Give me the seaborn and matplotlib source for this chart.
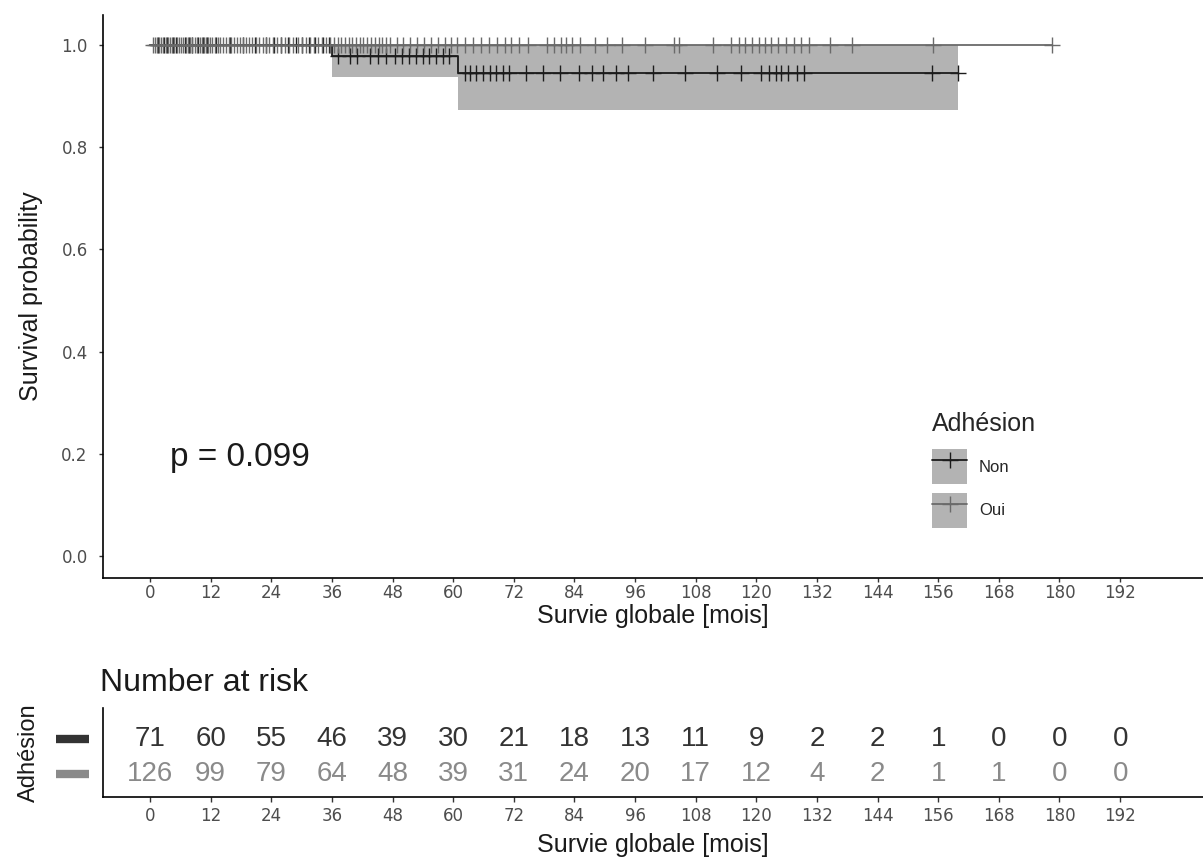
import numpy as np
import pandas as pd
import matplotlib
matplotlib.use("Agg")
import matplotlib.pyplot as plt
import matplotlib.transforms as mtransforms
from matplotlib.patches import Patch
from matplotlib.lines import Line2D
import seaborn as sns

# ---------------- data ----------------
groups = ["Non", "Oui"]
legend_title = "Adhésion"

non_event_times = [36.0, 61.0]
non_censor_times = [1.5, 2.8, 3.4, 4.6, 5.2, 6.9, 7.7, 8.3, 9.6, 10.4, 11.2,
                    13.1, 15.8, 18.4, 20.7, 22.9,
                    24.6, 25.9, 27.3, 28.8, 30.1, 31.5, 32.7, 34.2, 35.4,
                    37.2, 39.5, 41.0, 43.6, 45.1, 46.8,
                    48.5, 49.8, 51.2, 52.6, 54.0, 55.3, 56.7, 57.9, 59.2,
                    62.3, 63.4, 64.6, 66.0, 67.2, 68.5, 69.9, 71.1,
                    74.5, 77.8, 81.2,
                    85.0, 87.4, 89.6, 92.3, 94.7,
                    99.5, 105.8,
                    112.3, 117.0,
                    121.0, 122.5, 123.8, 124.9, 126.2, 128.0, 129.5,
                    154.8, 160.0]

oui_event_times = []
oui_censor_times = [0.5, 0.9, 1.3, 1.8, 2.2, 2.6, 3.1, 3.5, 3.9, 4.4, 4.8, 5.3, 5.7, 6.2,
                    6.6, 7.1, 7.5, 8.0, 8.4, 8.9, 9.3, 9.8, 10.2, 10.6, 11.0, 11.4, 11.8,
                    12.3, 12.8, 13.4, 13.9, 14.5, 15.0, 15.6, 16.1, 16.7, 17.2, 17.8, 18.4,
                    19.0, 19.6, 20.2, 20.9, 21.6, 22.3, 23.0, 23.6,
                    24.4, 25.2, 26.0, 26.8, 27.6, 28.4, 29.2, 30.0, 30.8, 31.6, 32.4, 33.2,
                    34.0, 34.8, 35.6,
                    36.5, 37.2, 37.9, 38.6, 39.3, 40.0, 40.8, 41.5, 42.2, 43.0, 43.7, 44.5,
                    45.3, 46.0, 46.8, 47.5,
                    48.8, 50.1, 51.5, 52.9, 54.3, 55.6, 57.0, 58.3, 59.5,
                    60.8, 62.4, 64.0, 65.5, 67.1, 68.6, 70.2, 71.5,
                    73.0, 74.8, 78.5, 80.0, 81.3, 82.4, 83.5,
                    85.2, 88.0, 90.5, 93.5,
                    98.0, 103.8, 104.6,
                    111.5, 115.0, 116.5, 117.8, 119.2,
                    120.6, 121.8, 123.0, 124.2, 125.9, 127.4, 128.8, 130.5,
                    134.5, 139.0,
                    155.0,
                    178.5]

risk_times = [0, 12, 24, 36, 48, 60, 72, 84, 96, 108, 120, 132, 144, 156, 168, 180, 192]
risk_non = [71, 60, 55, 46, 39, 30, 21, 18, 13, 11, 9, 2, 2, 1, 0, 0, 0]
risk_oui = [126, 99, 79, 64, 48, 39, 31, 24, 20, 17, 12, 4, 2, 1, 1, 0, 0]

p_text = "p = 0.099"
x_label = "Survie globale [mois]"
y_label = "Survival probability"
risk_title = "Number at risk"

colors = {"Non": "#1c1c1c", "Oui": "#6a6a6a"}
risk_colors = {"Non": "#333333", "Oui": "#8a8a8a"}
ci_fill = "#b3b3b3"
TXT = ["Liberation Sans", "DejaVu Sans"]


def km(events, censors):
    times = np.array(sorted(events + censors))
    S, gsum = 1.0, 0.0
    rows = [(0.0, 1.0, 1.0, 1.0)]
    for t in sorted(set(events)):
        at_risk = np.sum(times >= t)
        d = sum(1 for e in events if e == t)
        S *= (1 - d / at_risk)
        gsum += d / (at_risk * (at_risk - d))
        se = np.sqrt(gsum)
        rows.append((t, S, S * np.exp(-1.96 * se), min(1.0, S * np.exp(1.96 * se))))
    tmax = times.max()
    rows.append((tmax, rows[-1][1], rows[-1][2], rows[-1][3]))
    return pd.DataFrame(rows, columns=["time", "surv", "lower", "upper"])


def surv_at(df, t):
    idx = np.searchsorted(df["time"].values, t, side="right") - 1
    return df["surv"].values[max(idx, 0)]


curves = {"Non": km(non_event_times, non_censor_times),
          "Oui": km(oui_event_times, oui_censor_times)}
censors = {"Non": non_censor_times, "Oui": oui_censor_times}

curve_df = pd.concat([c.assign(group=g) for g, c in curves.items()], ignore_index=True)
cens_df = pd.concat([pd.DataFrame({"time": censors[g],
                                   "surv": [surv_at(curves[g], t) for t in censors[g]],
                                   "group": g}) for g in groups], ignore_index=True)

# ---------------- plot ----------------
sns.set_theme(style="ticks")
plt.rcParams["font.family"] = ["DejaVu Sans"]

fig = plt.figure(figsize=(12.03, 8.66), dpi=100)
ax = fig.add_axes([103 / 1203, 1 - 578 / 866, 1 - 103 / 1203, (578 - 15) / 866])

for g in ["Oui", "Non"]:
    c = curves[g]
    ax.fill_between(c["time"], c["lower"], c["upper"], step="post",
                    color=ci_fill, linewidth=0, zorder=1)

sns.lineplot(data=curve_df, x="time", y="surv", hue="group", hue_order=groups,
             palette=colors, drawstyle="steps-post", estimator=None, sort=False,
             linewidth=1.3, legend=False, ax=ax, zorder=3)
for g in groups:
    sub = cens_df[cens_df["group"] == g]
    ax.plot(sub["time"], sub["surv"], linestyle="none", marker="+", markersize=11,
            markeredgewidth=1.0, color=colors[g], zorder=4)

ax.set_xlim(-9.3, 208.4)
ax.set_ylim(-0.043, 1.059)
ax.set_xticks(risk_times)
ax.set_yticks([0.0, 0.2, 0.4, 0.6, 0.8, 1.0])
ax.set_yticklabels([f"{v:.1f}" for v in [0.0, 0.2, 0.4, 0.6, 0.8, 1.0]])
ax.tick_params(axis="both", labelsize=12, length=3, width=1, color="#333333",
               labelcolor="#4d4d4d", direction="out")
ax.tick_params(axis="x", pad=1)
ax.tick_params(axis="y", pad=8)
for s in ["top", "right"]:
    ax.spines[s].set_visible(False)
for s in ["left", "bottom"]:
    ax.spines[s].set_linewidth(1.2)
    ax.spines[s].set_color("black")
ax.set_xlabel(x_label, fontsize=18, color="#1a1a1a", labelpad=2, family=TXT)
ax.set_ylabel(y_label, fontsize=18, color="#1a1a1a", labelpad=13, family=TXT)

ax.text(4, 0.193, p_text, fontsize=24, ha="left", va="center", color="#1a1a1a", family=TXT)

handles = [(Patch(facecolor=ci_fill, edgecolor="none"),
            Line2D([], [], color=colors[g], marker="+", markersize=12, linewidth=1.3))
           for g in groups]
leg = ax.legend(handles, groups, title=legend_title, loc="upper left",
                bbox_to_anchor=(919 / 1203, 1 - 399 / 866), bbox_transform=fig.transFigure,
                frameon=False, handlelength=2.1, handleheight=2.9, labelspacing=0.5,
                handletextpad=0.7, borderpad=0.3,
                prop={"family": TXT, "size": 12})
leg.get_title().set_fontfamily(TXT)
leg.get_title().set_fontsize(18)
leg._legend_box.align = "left"
leg._legend_box.sep = 9

# ---------------- risk table ----------------
rax = fig.add_axes([103 / 1203, 1 - 797 / 866, 1 - 103 / 1203, (797 - 708) / 866])
risk_df = pd.DataFrame({"time": risk_times * 2,
                        "n": risk_non + risk_oui,
                        "group": ["Non"] * len(risk_times) + ["Oui"] * len(risk_times)})
ypos = {"Non": 2, "Oui": 1}
for _, r in risk_df.iterrows():
    rax.text(r["time"], ypos[r["group"]], str(r["n"]), ha="center", va="center",
             fontsize=20, color=risk_colors[r["group"]], family=TXT)
rax.set_xlim(-9.3, 208.4)
rax.set_ylim(0.36, 2.86)
rax.set_xticks(risk_times)
rax.set_yticks([1, 2])
rax.set_yticklabels([])
rax.tick_params(axis="y", length=0)
# strata colour keys (as y tick "labels")
key_tr = mtransforms.blended_transform_factory(rax.transAxes, rax.transData)
for g in groups:
    rax.plot([-0.043, -0.013], [ypos[g], ypos[g]], transform=key_tr, clip_on=False,
             color=risk_colors[g], linewidth=6, solid_capstyle="butt")
rax.tick_params(axis="x", labelsize=12, length=3.5, width=1, color="#333333",
                labelcolor="#4d4d4d")
for s in ["top", "right"]:
    rax.spines[s].set_visible(False)
for s in ["left", "bottom"]:
    rax.spines[s].set_linewidth(1.2)
    rax.spines[s].set_color("black")
rax.set_xlabel(x_label, fontsize=18, color="#1a1a1a", labelpad=6, family=TXT)
rax.set_ylabel(legend_title, fontsize=17, color="#1a1a1a", labelpad=42, family=TXT)
fig.text(100 / 1203, 1 - 683 / 866, risk_title, fontsize=23, ha="left", va="center",
         color="#1a1a1a", family=TXT)

fig.savefig("out.png", dpi=100)
